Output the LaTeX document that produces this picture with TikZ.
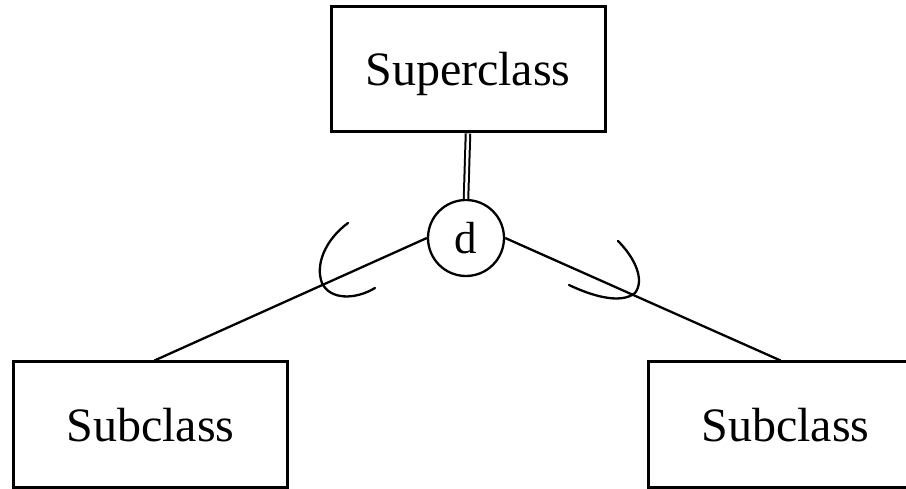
\documentclass[tikz,border=0pt]{standalone}
\usepackage{fontspec}
\setmainfont{Liberation Serif}
\begin{document}
\begin{tikzpicture}[x=1pt,y=-1pt,
  entbox/.style={draw, line width=3pt, rectangle, minimum width=274pt, minimum height=125pt,
    inner sep=0pt, text height=33pt, text depth=0pt, font=\fontsize{48}{58}\selectfont},
  dcirc/.style={draw, line width=2.3pt, circle, minimum size=76pt, inner sep=0pt,
    text height=31pt, text depth=0pt, font=\fontsize{45}{54}\selectfont},
  conn/.style={line width=2.3pt},
  subsetarc/.style={line width=2.3pt, line cap=round}]
\useasboundingbox (0,0) rectangle (906,489);
\clip (0,0) rectangle (906,489);
\node[entbox] (super) at (468,69.5) {Superclass};
\node[dcirc] (circ) at (466,238) {d};
\node[entbox] (lsub) at (150.5,424.5) {Subclass};
\node[entbox] (rsub) at (785.5,424.5) {Subclass};
\draw[line width=2pt, double, double distance=2.5pt] (super.south) -- (circ.north);
\draw[conn] (circ.west) -- ([xshift=4pt]lsub.north);
\draw[conn] (circ.east) -- ([xshift=-5pt]rsub.north);
\draw[subsetarc] (348,223) .. controls (325,240) and (315,265) .. (322,283)
  .. controls (330,300) and (355,300) .. (375,288);
\draw[subsetarc] (618,241) .. controls (635,258) and (645,280) .. (635,293)
  .. controls (620,305) and (590,295) .. (569,285);
\end{tikzpicture}
\end{document}
